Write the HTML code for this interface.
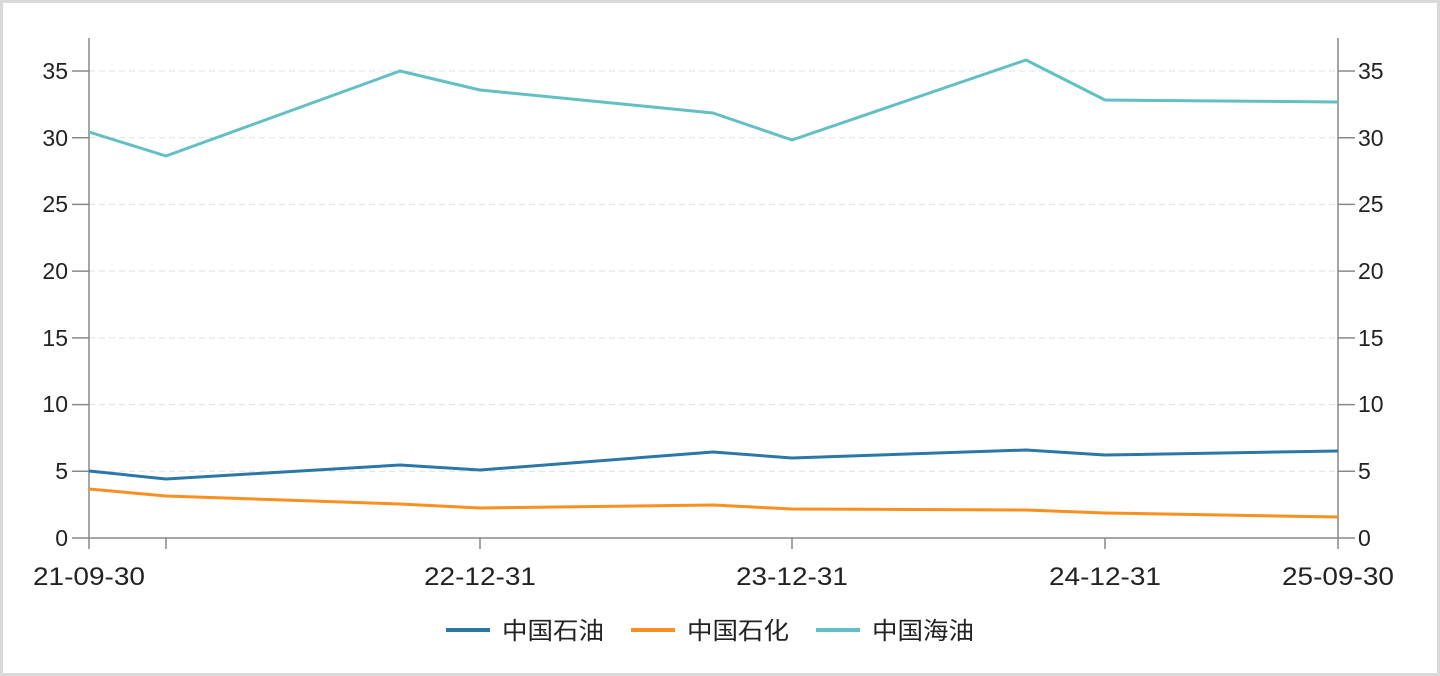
<!DOCTYPE html>
<html><head><meta charset="utf-8"><style>
html,body{margin:0;padding:0;background:#fff;}
.f{position:absolute;left:0;top:0;width:1434px;height:670px;border:3px solid #d9d9d9;}
svg{position:absolute;left:0;top:0;}
text{font-family:"Liberation Sans","Noto Sans CJK SC",sans-serif;font-size:23px;fill:#222;}
.x{font-size:25px;}
.lg{font-size:24px;}
</style></head><body>
<div class="f"></div>
<svg width="1440" height="676" viewBox="0 0 1440 676">
<g stroke="#e0e0e0" stroke-dasharray="6,4" stroke-width="1">
<line x1="89" y1="471.3" x2="1338" y2="471.3"/><line x1="89" y1="404.6" x2="1338" y2="404.6"/>
<line x1="89" y1="337.9" x2="1338" y2="337.9"/><line x1="89" y1="271.1" x2="1338" y2="271.1"/>
<line x1="89" y1="204.4" x2="1338" y2="204.4"/><line x1="89" y1="137.7" x2="1338" y2="137.7"/>
<line x1="89" y1="71" x2="1338" y2="71"/>
</g>
<g stroke="#888" stroke-width="1.5" fill="none">
<line x1="89" y1="38" x2="89" y2="538"/><line x1="1338" y1="38" x2="1338" y2="538"/>
<line x1="89" y1="538" x2="1338" y2="538"/>
<line x1="89" y1="538" x2="89" y2="549"/><line x1="166" y1="538" x2="166" y2="549"/>
<line x1="480" y1="538" x2="480" y2="549"/><line x1="792" y1="538" x2="792" y2="549"/>
<line x1="1105" y1="538" x2="1105" y2="549"/><line x1="1338" y1="538" x2="1338" y2="549"/>
<path d="M72 538H89M72 471.3H89M72 404.6H89M72 337.9H89M72 271.1H89M72 204.4H89M72 137.7H89M72 71H89"/>
<path d="M1338 538H1355M1338 471.3H1355M1338 404.6H1355M1338 337.9H1355M1338 271.1H1355M1338 204.4H1355M1338 137.7H1355M1338 71H1355"/>
</g>
<g text-anchor="end">
<text x="68" y="546">0</text><text x="68" y="479">5</text><text x="68" y="412">10</text><text x="68" y="346">15</text>
<text x="68" y="279">20</text><text x="68" y="212">25</text><text x="68" y="146">30</text><text x="68" y="79">35</text>
</g>
<g text-anchor="start">
<text x="1358" y="546">0</text><text x="1358" y="479">5</text><text x="1358" y="412">10</text><text x="1358" y="346">15</text>
<text x="1358" y="279">20</text><text x="1358" y="212">25</text><text x="1358" y="146">30</text><text x="1358" y="79">35</text>
</g>
<g text-anchor="middle" class="x">
<text class="x" x="89" y="585" textLength="112" lengthAdjust="spacingAndGlyphs">21-09-30</text>
<text class="x" x="480" y="585" textLength="112" lengthAdjust="spacingAndGlyphs">22-12-31</text>
<text class="x" x="792" y="585" textLength="112" lengthAdjust="spacingAndGlyphs">23-12-31</text>
<text class="x" x="1105" y="585" textLength="112" lengthAdjust="spacingAndGlyphs">24-12-31</text>
<text class="x" x="1338" y="585" textLength="112" lengthAdjust="spacingAndGlyphs">25-09-30</text>
</g>
<g fill="none" stroke-width="3" stroke-linejoin="round">
<polyline stroke="#62c0c4" points="89,132 166,156 400,71 480,90 713,113 792,140 1026,60 1105,100 1338,102"/>
<polyline stroke="#2a77a8" points="89,471 166,479 400,465 480,470 713,452 792,458 1026,450 1105,455 1338,451"/>
<polyline stroke="#f88f1e" points="89,489 166,496 400,504 480,508 713,505 792,509 1026,510 1105,513 1338,517"/>
</g>
<line x1="446" y1="630" x2="490" y2="630" stroke="#2a77a8" stroke-width="4"/>
<text class="lg" x="502" y="639" textLength="102" lengthAdjust="spacingAndGlyphs">中国石油</text>
<line x1="631" y1="630" x2="675" y2="630" stroke="#f88f1e" stroke-width="4"/>
<text class="lg" x="687" y="639" textLength="102" lengthAdjust="spacingAndGlyphs">中国石化</text>
<line x1="816" y1="630" x2="860" y2="630" stroke="#62c0c4" stroke-width="4"/>
<text class="lg" x="872" y="639" textLength="102" lengthAdjust="spacingAndGlyphs">中国海油</text>
</svg>
</body></html>
